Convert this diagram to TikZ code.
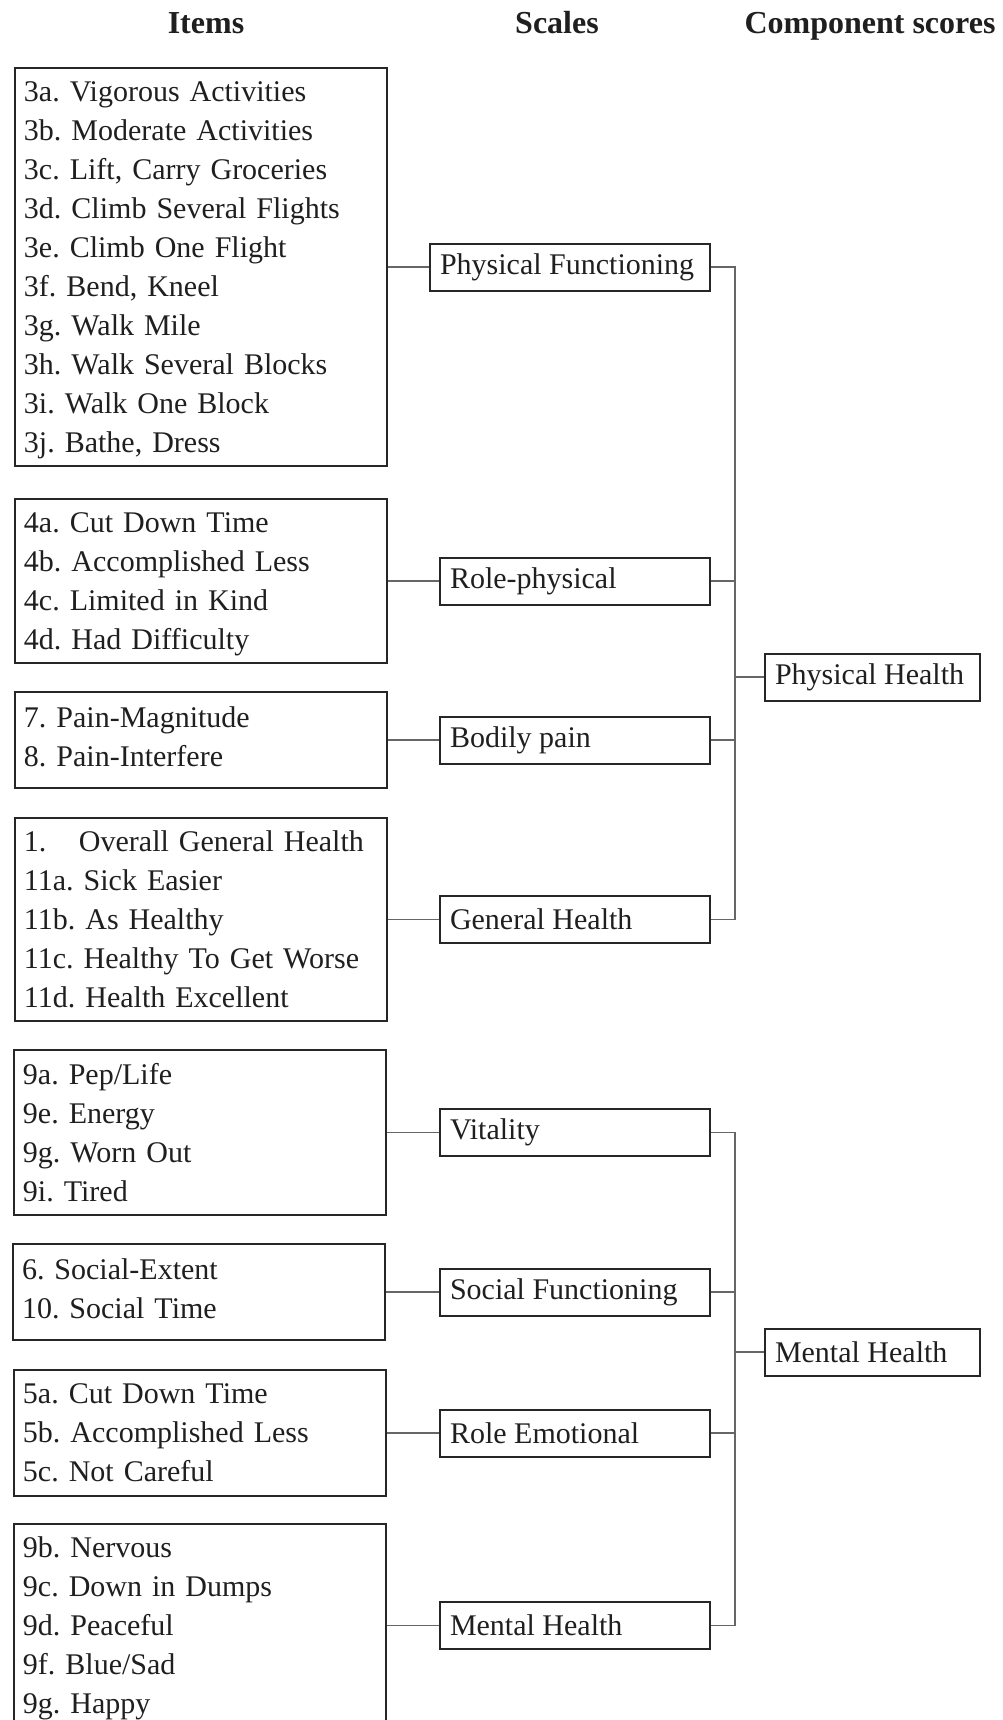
\documentclass[tikz,border=0pt]{standalone}
\usepackage{fontspec}
\setmainfont{Liberation Serif}
\frenchspacing
\newcommand{\topstrut}{\rule{0pt}{13.4pt}}
\newcommand{\botstrut}{\rule[-3.2pt]{0pt}{3.2pt}}
\begin{document}
\begin{tikzpicture}[x=0.5pt,y=-0.5pt,
  every node/.style={font=\fontsize{15}{19.5}\selectfont\frenchspacing, text=black!88},
  itembox/.style={draw=black!85, line width=1pt, anchor=north west, text width=177pt, inner xsep=4.5pt, inner ysep=0pt, align=left},
  scalebox/.style={draw=black!85, line width=1pt, anchor=west, inner xsep=5pt, inner ysep=0pt, minimum height=23.5pt},
  conn/.style={draw=black!60, line width=0.7pt},
  head/.style={font=\fontsize{16}{19}\selectfont\bfseries, anchor=base}]
\useasboundingbox (0,0) rectangle (1002,1720);

% headers
\node[head] (hitems) at (206,33) {Items};
\node[head] (hscales) at (557,33) {Scales};
\node[head] (hcomp) at (870,33) {Component scores};

% item boxes
\node[itembox, minimum height=199pt] (b1) at (14,67) {\topstrut 3a. Vigorous Activities\\3b. Moderate Activities\\3c. Lift, Carry Groceries\\3d. Climb Several Flights\\3e. Climb One Flight\\3f. Bend, Kneel\\3g. Walk Mile\\3h. Walk Several Blocks\\3i. Walk One Block\\3j. Bathe, Dress};
\node[itembox, minimum height=82pt] (b2) at (14,498) {\topstrut 4a. Cut Down Time\\4b. Accomplished Less\\4c. Limited in Kind\\4d. Had Difficulty};
\node[itembox, minimum height=48pt] (b3) at (14,691) {7. Pain-Magnitude\\8. Pain-Interfere\botstrut};
\node[itembox, minimum height=101.5pt] (b4) at (14,817) {\makebox[27.5pt][l]{1.}Overall General Health\\11a. Sick Easier\\11b. As Healthy\\11c. Healthy To Get Worse\\11d. Health Excellent};
\node[itembox, minimum height=82.5pt] (b5) at (13,1049) {9a. Pep/Life\\9e. Energy\\9g. Worn Out\\9i. Tired};
\node[itembox, minimum height=48pt] (b6) at (12,1243) {6. Social-Extent\\10. Social Time\botstrut};
\node[itembox, minimum height=63pt] (b7) at (13,1369) {5a. Cut Down Time\\5b. Accomplished Less\\5c. Not Careful};
\node[itembox, minimum height=101.5pt] (b8) at (13,1523) {\topstrut 9b. Nervous\\9c. Down in Dumps\\9d. Peaceful\\9f. Blue/Sad\\9g. Happy};

% scale boxes
\node[scalebox] (pf) at ([xshift=20.5pt]b1.east) {\makebox[130pt][l]{Physical Functioning}};
\node[scalebox] (rp) at ([xshift=25.5pt]b2.east) {\makebox[125pt][l]{Role-physical}};
\node[scalebox] (bp) at ([xshift=25.5pt]b3.east) {\makebox[125pt][l]{Bodily pain}};
\node[scalebox] (gh) at ([xshift=25.5pt]b4.east) {\makebox[125pt][l]{General Health}};
\node[scalebox] (vt) at ([xshift=26pt]b5.east) {\makebox[125pt][l]{Vitality}};
\node[scalebox] (sf) at ([xshift=26.5pt]b6.east) {\makebox[125pt][l]{Social Functioning}};
\node[scalebox] (re) at ([xshift=26pt]b7.east) {\makebox[125pt][l]{Role Emotional}};
\node[scalebox] (mh) at ([xshift=26pt]b8.east) {\makebox[125pt][l]{Mental Health}};

% component boxes
\node[scalebox] (ph) at (764,677) {\makebox[97.5pt][l]{Physical Health}};
\node[scalebox] (mc) at (764,1352) {\makebox[97.5pt][l]{Mental Health}};

\coordinate (j1) at ([xshift=-14.5pt]ph.west);
\coordinate (j2) at ([xshift=-14.5pt]mc.west);

% item -> scale connectors
\draw[conn] (b1.east) -- (pf.west);
\draw[conn] (b2.east) -- (rp.west);
\draw[conn] (b3.east) -- (bp.west);
\draw[conn] (b4.east) -- (gh.west);
\draw[conn] (b5.east) -- (vt.west);
\draw[conn] (b6.east) -- (sf.west);
\draw[conn] (b7.east) -- (re.west);
\draw[conn] (b8.east) -- (mh.west);

% scale -> component connectors
\draw[conn] (pf.east) -| (j1) |- (gh.east);
\draw[conn] (rp.east) -- (rp.east -| j1);
\draw[conn] (bp.east) -- (bp.east -| j1);
\draw[conn] (j1) -- (ph.west);

\draw[conn] (vt.east) -| (j2) |- (mh.east);
\draw[conn] (sf.east) -- (sf.east -| j2);
\draw[conn] (re.east) -- (re.east -| j2);
\draw[conn] (j2) -- (mc.west);
\end{tikzpicture}
\end{document}
